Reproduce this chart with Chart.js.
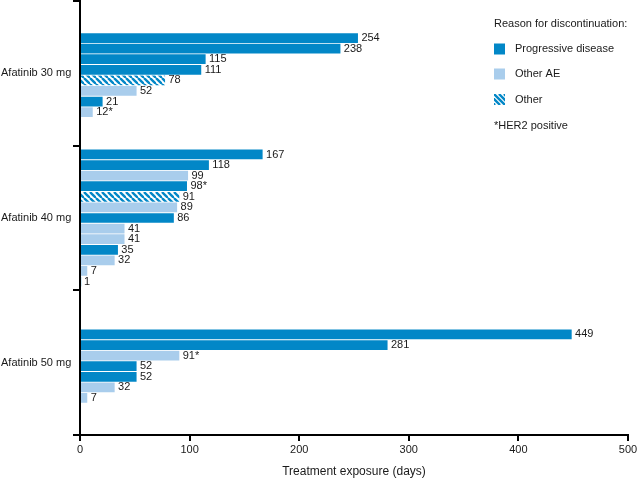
<!DOCTYPE html>
<html><head><meta charset="utf-8">
<script src="https://cdn.jsdelivr.net/npm/chart.js@4"></script>
<style>html,body{margin:0;padding:0;background:#fff}</style>
</head><body>
<canvas id="c" width="638" height="478"></canvas>
<script>
// ---- data ----
const groups = ['Afatinib 30 mg', 'Afatinib 40 mg', 'Afatinib 50 mg'];
const values30 = [254, 238, 115, 111, 78, 52, 21, 12];
const reasons30 = ['PD', 'PD', 'PD', 'PD', 'Other', 'AE', 'PD', 'AE'];
const her2_30 = [false, false, false, false, false, false, false, true];
const values40 = [167, 118, 99, 98, 91, 89, 86, 41, 41, 35, 32, 7, 1];
const reasons40 = ['PD', 'PD', 'AE', 'PD', 'Other', 'AE', 'PD', 'AE', 'AE', 'PD', 'AE', 'AE', 'PD'];
const her2_40 = [false, false, false, true, false, false, false, false, false, false, false, false, false];
const values50 = [449, 281, 91, 52, 52, 32, 7];
const reasons50 = ['PD', 'PD', 'AE', 'PD', 'PD', 'AE', 'AE'];
const her2_50 = [false, false, true, false, false, false, false];
const reasonKeys = ['PD', 'AE', 'Other'];
const reasonLabels = ['Progressive disease', 'Other AE', 'Other'];
const xTicks = [0, 100, 200, 300, 400, 500];
const legendTitle = 'Reason for discontinuation:';
const footNote = '*HER2 positive';
const xTitle = 'Treatment exposure (days)';

// ---- build rows (blank spacer rows separate the dose groups) ----
const FONT = '"Liberation Sans", Arial, Helvetica, sans-serif';
const DARK = '#0287c7';
const LIGHT = '#a9cdec';
const TEXT = '#1a1a1a';
const spacers = [3, 3, 4, 3];
const groupData = [
  [values30, reasons30, her2_30],
  [values40, reasons40, her2_40],
  [values50, reasons50, her2_50]
];
const rowVals = [], rowReasons = [], rowHer2 = [];
function pushBlank(n) { for (let i = 0; i < n; i++) { rowVals.push(null); rowReasons.push(null); rowHer2.push(false); } }
groupData.forEach((g, gi) => {
  pushBlank(spacers[gi]);
  g[0].forEach((v, i) => { rowVals.push(v); rowReasons.push(g[1][i]); rowHer2.push(g[2][i]); });
});
pushBlank(spacers[3]);
const rowLabels = rowVals.map((_, i) => 'r' + i);

// hatch pattern
function makeHatch(color) {
  const s = 6;
  const cv = document.createElement('canvas');
  cv.width = s; cv.height = s;
  const c = cv.getContext('2d');
  c.fillStyle = '#fff'; c.fillRect(0, 0, s, s);
  c.strokeStyle = color; c.lineWidth = 2.4;
  for (let k = -1; k <= 1; k++) {
    c.beginPath(); c.moveTo(k * s, 0); c.lineTo(k * s + s, s); c.stroke();
  }
  return c.createPattern(cv, 'repeat');
}
const ctx = document.getElementById('c').getContext('2d');
const hatch = makeHatch(DARK);
const fills = { PD: DARK, AE: LIGHT, Other: hatch };

const datasets = reasonKeys.map((k, di) => ({
  label: reasonLabels[di],
  data: rowVals.map((v, i) => rowReasons[i] === k ? v : null),
  backgroundColor: fills[k],
  borderColor: 'rgba(255,255,255,0.45)',
  borderWidth: 0.75,
  borderSkipped: 'start',
  yAxisID: 'y',
  barPercentage: 1,
  categoryPercentage: 1,
  grouped: false
}));

const valueLabels = {
  id: 'valueLabels',
  afterDatasetsDraw(chart) {
    const c = chart.ctx;
    c.save();
    c.font = '11px ' + FONT;
    c.fillStyle = TEXT;
    c.textBaseline = 'middle';
    c.textAlign = 'left';
    chart.data.datasets.forEach((ds, di) => {
      chart.getDatasetMeta(di).data.forEach((el, i) => {
        const v = ds.data[i];
        if (v == null) return;
        c.fillText(v + (rowHer2[i] ? '*' : ''), el.x + 3, el.y);
      });
    });
    c.restore();
  }
};

const customLegend = {
  id: 'customLegend',
  afterDraw(chart) {
    const c = chart.ctx;
    c.save();
    c.font = '11px ' + FONT;
    c.fillStyle = TEXT;
    c.textBaseline = 'middle';
    c.textAlign = 'left';
    const x0 = 494;
    c.fillText(legendTitle, x0, 24);
    const ys = [49, 74, 99.5];
    chart.data.datasets.forEach((ds, i) => {
      const y = ys[i];
      if (ds.backgroundColor === hatch) {
        c.save();
        c.beginPath(); c.rect(x0, y - 5.5, 11, 11); c.clip();
        c.strokeStyle = DARK; c.lineWidth = 2.4;
        for (let k = -2; k <= 2; k++) {
          c.beginPath(); c.moveTo(x0 + k * 5, y - 5.5); c.lineTo(x0 + k * 5 + 11, y + 5.5); c.stroke();
        }
        c.restore();
      } else {
        c.fillStyle = ds.backgroundColor;
        c.fillRect(x0, y - 5.5, 11, 11);
      }
      c.fillStyle = TEXT;
      c.fillText(ds.label, x0 + 21, y);
    });
    c.fillText(footNote, x0, 125.5);
    c.restore();
  }
};

new Chart(ctx, {
  type: 'bar',
  data: { labels: rowLabels, datasets },
  plugins: [valueLabels, customLegend],
  options: {
    responsive: false,
    animation: false,
    indexAxis: 'y',
    layout: { padding: { top: 1, right: 10, left: 1, bottom: 0 } },
    plugins: { legend: { display: false }, tooltip: { enabled: false } },
    scales: {
      y: { type: 'category', display: false, labels: rowLabels },
      yg: {
        type: 'category',
        position: 'left',
        labels: groups,
        offset: true,
        afterFit(s) { s.width = 79; s.paddingTop = 0; s.paddingBottom = 0; },
        grid: { offset: true, drawOnChartArea: false, color: '#000', lineWidth: 2, tickLength: 7 },
        border: { color: '#000', width: 2 },
        ticks: { crossAlign: 'far', color: TEXT, font: { family: FONT, size: 11 }, padding: 4 }
      },
      x: {
        type: 'linear',
        min: 0, max: 500,
        afterBuildTicks(s) { s.ticks = xTicks.map(v => ({ value: v })); },
        afterFit(s) { s.height = 43; s.paddingLeft = 0; s.paddingRight = 0; },
        grid: { drawOnChartArea: false, color: '#000', lineWidth: 2, tickLength: 6 },
        border: { color: '#000', width: 2 },
        ticks: { color: TEXT, font: { family: FONT, size: 11 }, padding: 2, maxRotation: 0 },
        title: { display: true, text: xTitle, color: TEXT, font: { family: FONT, size: 12, lineHeight: 1 }, padding: { top: 4, bottom: 0 } }
      }
    }
  }
});
</script>
</body></html>
